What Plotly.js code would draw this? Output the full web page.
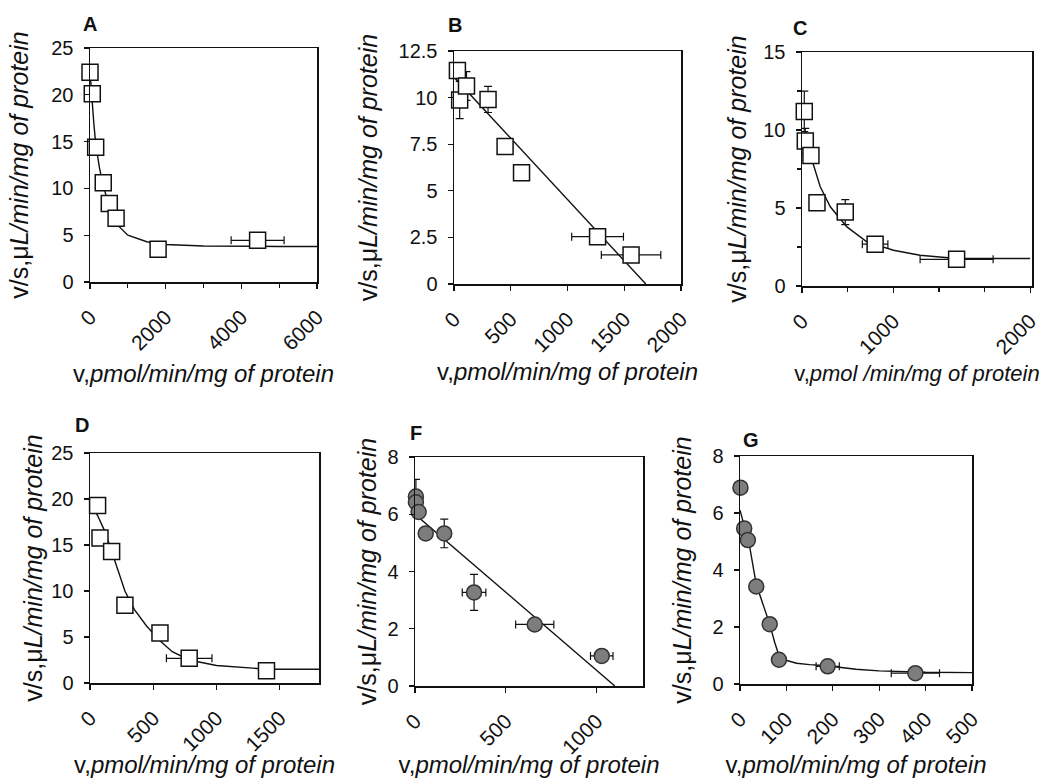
<!DOCTYPE html>
<html>
<head>
<meta charset="utf-8">
<script src="https://cdn.plot.ly/plotly-3.0.1.min.js"></script>
<style>html,body{margin:0;padding:0;background:#fff}#chart{width:1042px;height:778px}</style>
</head>
<body>
<div id="chart"></div>
<script>
// ---------- Panel A ----------
const A_x = [0, 60, 150, 350, 510, 690, 1800, 4430];
const A_y = [22.4, 20.1, 14.4, 10.6, 8.4, 6.8, 3.5, 4.45];
const A_xerr = [0, 0, 0, 0, 0, 0, 0, 700];
const A_fit_x = [0, 50, 100, 150, 250, 350, 500, 700, 1000, 1500, 2000, 3000, 4000, 5000, 6000];
const A_fit_y = [22.5, 19.5, 17.0, 14.8, 12.2, 10.3, 8.2, 6.2, 5.0, 4.3, 4.0, 3.85, 3.8, 3.8, 3.8];

// ---------- Panel B ----------
const B_x = [30, 50, 110, 300, 450, 595, 1265, 1560];
const B_y = [11.45, 9.87, 10.62, 9.9, 7.37, 5.97, 2.54, 1.56];
const B_yerr = [0, 1.0, 0.77, 0.7, 0, 0, 0, 0];
const B_xerr = [0, 0, 0, 0, 0, 0, 228, 262];
const B_fit_x = [0, 1690];
const B_fit_y = [11.1, 0];

// ---------- Panel C ----------
const C_x = [25, 36, 98, 164, 474, 801, 1694];
const C_y = [11.19, 9.3, 8.36, 5.34, 4.74, 2.68, 1.71];
const C_yerr = [1.3, 0.8, 0, 0, 0.8, 0, 0];
const C_xerr = [0, 0, 0, 0, 0, 140, 400];
const C_fit_x = [11, 98, 200, 310, 492, 710, 1002, 1293, 1694, 2500];
const C_fit_y = [9.36, 8.29, 6.36, 5.08, 3.79, 2.83, 2.29, 1.97, 1.76, 1.76];
const C_tickvals = [0, 1000, 2500];
const C_ticktext = ["0", "1000", "2000"];

// ---------- Panel D ----------
const D_x = [60, 79, 171, 276, 553, 784, 1395];
const D_y = [19.3, 15.76, 14.3, 8.44, 5.43, 2.68, 1.34];
const D_xerr = [0, 0, 0, 0, 0, 180, 0];
const D_fit_x = [0, 60, 120, 171, 220, 276, 350, 447, 553, 650, 784, 1000, 1200, 1400, 1810];
const D_fit_y = [19.8, 18.2, 16.4, 14.2, 12.3, 10.0, 8.0, 6.2, 4.6, 3.4, 2.5, 1.9, 1.7, 1.5, 1.5];

// ---------- Panel F ----------
const F_x = [5, 5, 20, 59, 161, 325, 659, 1028];
const F_y = [6.62, 6.42, 6.08, 5.33, 5.33, 3.27, 2.15, 1.05];
const F_yerr = [0.6, 0, 0, 0, 0.5, 0.63, 0, 0];
const F_xerr = [0, 0, 0, 0, 0, 65, 105, 62];
const F_fit_x = [0, 1100];
const F_fit_y = [6.0, 0];

// ---------- Panel G ----------
const G_x = [1, 9, 17, 35, 64, 84, 189, 378];
const G_y = [6.89, 5.46, 5.05, 3.42, 2.1, 0.85, 0.62, 0.38];
const G_xerr = [0, 0, 0, 0, 0, 0, 25, 52];
const G_fit_x = [0, 10, 20, 35, 50, 64, 75, 84, 95, 122, 150, 187, 250, 300, 400, 500];
const G_fit_y = [6.1, 5.45, 4.9, 3.5, 2.75, 2.1, 1.45, 1.0, 0.85, 0.73, 0.68, 0.64, 0.52, 0.46, 0.41, 0.4];

const FONT = "Liberation Sans, Arial, Helvetica, sans-serif";
const W = 1042, H = 778;
const YT = 'v/s,\u03bc<i>L/min/mg of protein</i>';
const XT = 'v,<i>pmol/min/mg of protein</i>';
const XTC = 'v,<i>pmol /min/mg of protein</i>';

const squareMarker = {symbol: 'square', size: 16, color: '#ffffff', line: {color: '#111', width: 1.5}};
const circleMarker = {symbol: 'circle', size: 15, color: '#7d7d7d', line: {color: '#333', width: 1.5}};

function errArr(arr) {
  return {type: 'data', array: arr, visible: true, color: '#111', thickness: 1.2, width: 4};
}

const traces = [];
function panel(n, fx, fy, px, py, marker, xerr, yerr) {
  const xa = n === 1 ? 'x' : 'x' + n, ya = n === 1 ? 'y' : 'y' + n;
  traces.push({x: fx, y: fy, xaxis: xa, yaxis: ya, mode: 'lines', line: {color: '#111', width: 1.4}, hoverinfo: 'skip', showlegend: false});
  const t = {x: px, y: py, xaxis: xa, yaxis: ya, mode: 'markers', marker: marker, cliponaxis: false, showlegend: false};
  if (xerr) t.error_x = errArr(xerr);
  if (yerr) t.error_y = errArr(yerr);
  traces.push(t);
}
panel(1, A_fit_x, A_fit_y, A_x, A_y, squareMarker, A_xerr, null);
panel(2, B_fit_x, B_fit_y, B_x, B_y, squareMarker, B_xerr, B_yerr);
panel(3, C_fit_x, C_fit_y, C_x, C_y, squareMarker, C_xerr, C_yerr);
panel(4, D_fit_x, D_fit_y, D_x, D_y, squareMarker, D_xerr, null);
panel(5, F_fit_x, F_fit_y, F_x, F_y, circleMarker, F_xerr, F_yerr);
panel(6, G_fit_x, G_fit_y, G_x, G_y, circleMarker, G_xerr, null);

function dx(a, b) { return [a / W, b / W]; }
function dy(top, bot) { return [1 - bot / H, 1 - top / H]; }

function xaxis(n, dom, range, dtick, minorDt, title, standoff, extra, tsize) {
  const ax = {
    domain: dom, range: range, anchor: n === 1 ? 'y' : 'y' + n,
    showline: true, linecolor: '#111', linewidth: 1.5, mirror: true,
    ticks: 'outside', ticklen: 5, tickwidth: 1.2, tickcolor: '#111',
    tickangle: -45, showgrid: false, zeroline: false, ticklabelstandoff: 8,
    tickfont: {family: FONT, size: 21, color: '#111'},
    title: {text: title, font: {family: FONT, size: tsize || 24, color: '#111'}, standoff: standoff},
    tickmode: 'linear', tick0: 0, dtick: dtick
  };
  if (minorDt) ax.minor = {tickmode: 'linear', tick0: 0, dtick: minorDt, ticks: 'outside', ticklen: 4, tickcolor: '#111', showgrid: false};
  return Object.assign(ax, extra || {});
}
function yaxis(n, dom, range, dtick, minorDt, standoff) {
  const ax = {
    domain: dom, range: range, anchor: n === 1 ? 'x' : 'x' + n,
    showline: true, linecolor: '#111', linewidth: 1.5, mirror: true,
    ticks: 'outside', ticklen: 5, tickwidth: 1.2, tickcolor: '#111',
    showgrid: false, zeroline: false, ticklabelstandoff: 6,
    tickfont: {family: FONT, size: 20, color: '#111'},
    title: {text: YT, font: {family: FONT, size: 25, color: '#111'}, standoff: standoff},
    tickmode: 'linear', tick0: 0, dtick: dtick
  };
  if (minorDt) ax.minor = {tickmode: 'linear', tick0: 0, dtick: minorDt, ticks: 'outside', ticklen: 4, tickcolor: '#111', showgrid: false};
  return ax;
}

const layout = {
  width: W, height: H,
  margin: {l: 0, r: 0, t: 0, b: 0},
  paper_bgcolor: '#fff', plot_bgcolor: '#fff',
  showlegend: false,
  font: {family: FONT, color: '#111'},
  xaxis:  xaxis(1, dx(90, 317), [0, 6000], 2000, 1000, XT, 11),
  yaxis:  yaxis(1, dy(48, 282), [0, 25], 5, null, 15),
  xaxis2: xaxis(2, dx(454, 681), [0, 2000], 500, null, XT, 7),
  yaxis2: yaxis(2, dy(51, 284), [0, 12.5], 2.5, null, 14),
  xaxis3: xaxis(3, dx(802, 1032), [0, 2520], 500, 500, XTC, 8, {tickmode: 'array', tickvals: C_tickvals, ticktext: C_ticktext}, 22),
  yaxis3: yaxis(3, dy(52, 286), [0, 15], 5, 2.5, 9),
  xaxis4: xaxis(4, dx(90, 319), [0, 1810], 500, null, XT, 0),
  yaxis4: yaxis(4, dy(453, 683), [0, 25], 5, null, 1),
  xaxis5: xaxis(5, dx(415, 643), [0, 1255], 500, null, XT, 0),
  yaxis5: yaxis(5, dy(457, 686), [0, 8], 2, null, 3),
  xaxis6: xaxis(6, dx(740, 972), [0, 500], 100, null, XT, 10),
  yaxis6: yaxis(6, dy(456, 684), [0, 8], 2, null, 13),
  annotations: [
    ['A', 90, 24], ['B', 455, 25], ['C', 800, 28], ['D', 82, 425], ['F', 416, 433], ['G', 751, 440]
  ].map(a => ({text: '<b>' + a[0] + '</b>', x: a[1] / W, y: 1 - a[2] / H, xref: 'paper', yref: 'paper',
    xanchor: 'center', yanchor: 'middle', showarrow: false, font: {family: FONT, size: 20, color: '#111'}}))
};

Plotly.newPlot('chart', traces, layout, {staticPlot: true, displayModeBar: false});
</script>
</body>
</html>
